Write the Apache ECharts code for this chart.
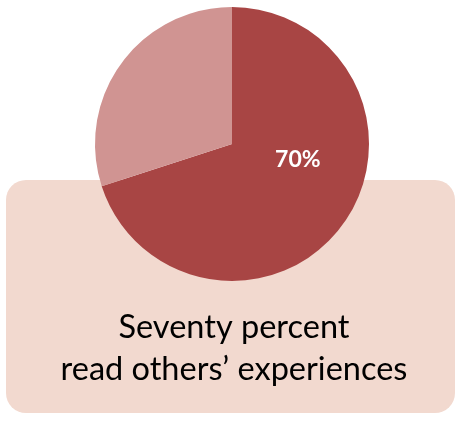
<!DOCTYPE html>
<html>
<head>
<meta charset="utf-8">
<style>
  html, body { margin: 0; padding: 0; background: #ffffff; }
  #chart { width: 456px; height: 423px; }
</style>
<script src="https://cdn.jsdelivr.net/npm/echarts@6/dist/echarts.min.js"></script>
</head>
<body>
<div id="chart"></div>
<script>
// Share of people who read others' experiences
const sliceNames = ['Read others\u2019 experiences', 'Do not'];
const sliceValues = [70, 30];
const sliceColors = ['#a84544', '#d09492'];
const captionLines = ['Seventy percent', 'read others\u2019 experiences'];

const chart = echarts.init(document.getElementById('chart'));

chart.setOption({
  animation: false,
  graphic: [
    {
      type: 'rect',
      z: 0,
      shape: { x: 6, y: 180, width: 449, height: 233, r: 20 },
      style: { fill: '#f2d9cf' }
    },
    {
      type: 'text',
      z: 1,
      x: 234,
      y: 349,
      style: {
        text: captionLines.join('\n'),
        fill: '#000000',
        font: '32.5px Lato, sans-serif',
        lineHeight: 42,
        align: 'center',
        verticalAlign: 'middle'
      }
    }
  ],
  series: [
    {
      type: 'pie',
      z: 5,
      center: [232, 144],
      radius: [0, 137],
      startAngle: 90,
      clockwise: true,
      silent: true,
      labelLine: { show: false },
      data: sliceNames.map((name, i) => ({
        name: name,
        value: sliceValues[i],
        itemStyle: { color: sliceColors[i] },
        label: i === 0 ? {
          show: true,
          position: 'inside',
          formatter: '{d}%',
          offset: [8, -26],
          color: '#ffffff',
          fontWeight: 'bold',
          fontSize: 23,
          fontFamily: 'Lato, sans-serif'
        } : { show: false }
      }))
    }
  ]
});
</script>
</body>
</html>
